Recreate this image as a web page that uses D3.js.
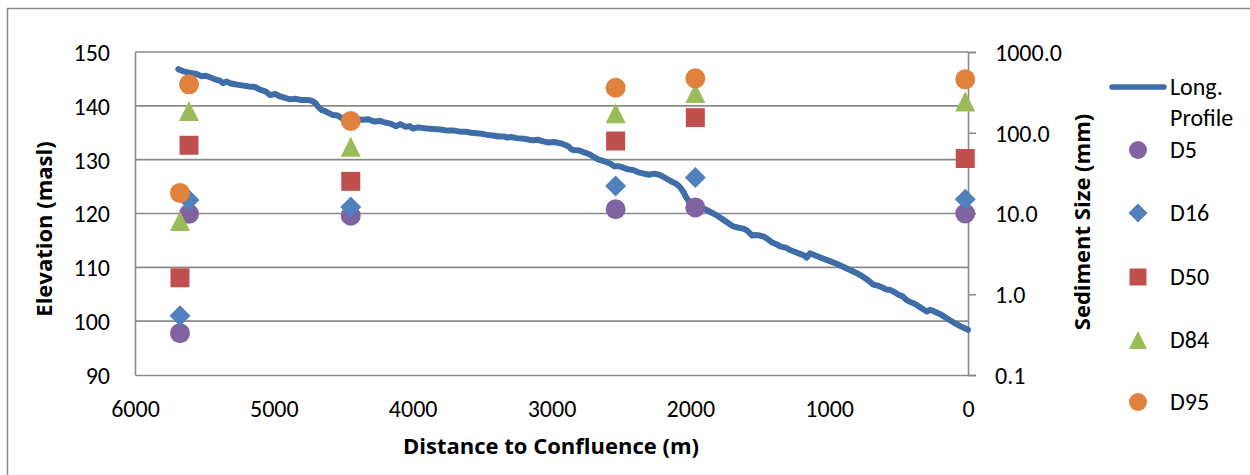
<!DOCTYPE html>
<html><head><meta charset="utf-8">
<script src="https://cdn.jsdelivr.net/npm/d3@7"></script>
<style>
body{margin:0;background:#fff;}
svg text{font-family:Carlito,Calibri,Lato,sans-serif;fill:#000;}
svg text.title{font-family:"Open Sans",Lato,sans-serif;font-weight:bold;}
</style></head>
<body><svg id="c" width="1250" height="475"></svg>
<script>
// Long profile: distance to confluence (m) and elevation (masl)
const profileDist = [5688,5650,5600,5556,5520,5490,5460,5420,5390,5366,5340,5316,5280,5230,5180,5136,5100,5060,5028,4990,4950,4920,4884,4850,4800,4760,4727,4700,4680,4655,4630,4600,4574,4540,4510,4480,4440,4400,4358,4320,4280,4235,4200,4160,4120,4090,4050,4020,3998,3960,3900,3850,3800,3750,3700,3659,3620,3580,3540,3500,3460,3420,3380,3340,3323,3290,3250,3200,3160,3133,3100,3060,3020,2980,2950,2927,2880,2860,2843,2800,2760,2747,2720,2690,2660,2620,2579,2550,2520,2490,2450,2413,2380,2350,2300,2260,2219,2180,2140,2100,2074,2050,2026,2000,1960,1930,1880,1835,1800,1760,1720,1690,1660,1620,1594,1570,1555,1530,1500,1470,1440,1410,1380,1354,1306,1290,1250,1210,1180,1162,1138,1100,1050,1000,950,900,850,800,778,754,720,682,650,620,590,560,530,500,470,442,410,380,340,297,274,250,200,150,100,50,0];
const profileElev = [146.8,146.4,146.1,145.9,145.5,145.6,145.3,144.9,144.7,144.2,144.5,144.2,144.0,143.8,143.6,143.5,143.0,142.7,142.0,142.2,141.7,141.5,141.2,141.3,141.1,141.1,140.95,140.5,139.8,139.2,139.0,138.6,138.3,138.2,137.7,137.9,137.6,137.5,137.4,137.5,137.1,137.2,136.9,136.7,136.2,136.6,136.1,136.2,135.8,136.0,135.8,135.7,135.6,135.4,135.4,135.2,135.2,135.0,134.9,134.8,134.6,134.5,134.3,134.3,134.1,134.2,134.0,133.9,133.7,133.6,133.7,133.4,133.2,133.3,133.1,133.0,132.5,132.0,131.8,131.7,131.3,131.2,130.9,130.4,130.0,129.7,129.3,128.8,128.8,128.6,128.2,128.1,127.7,127.5,127.2,127.4,127.15,126.6,126.0,125.5,124.9,124.0,122.8,122.0,121.5,121.26,120.6,120.0,119.5,118.8,118.1,117.6,117.4,117.2,116.9,116.3,115.9,116.0,115.9,115.7,115.2,114.6,114.3,113.9,113.6,113.3,112.9,112.5,112.2,111.8,112.6,112.2,111.7,111.2,110.7,110.1,109.5,108.9,108.6,108.2,107.6,106.8,106.6,106.3,105.9,105.8,105.4,104.9,104.6,103.9,103.5,103.2,102.5,101.8,102.1,101.9,101.3,100.5,99.7,99.0,98.4];

// Sediment sampling sites (distance, m) and grain sizes (mm)
const siteDist = [5676, 5611, 4446, 2538, 1964, 20];
const D5  = [0.33, 9.9, 9.4, 11.3, 11.9, 10.0];
const D16 = [0.54, 14.7, 12.0, 21.9, 28, 15];
const D50 = [1.6, 70, 25, 79, 154, 48];
const D84 = [8.1, 186, 67, 174, 311, 243];
const D95 = [18, 398, 140, 361, 472, 459];

const xTicks = [6000,5000,4000,3000,2000,1000,0];
const yLeftTicks = [90,100,110,120,130,140,150];
const yRightTicks = [0.1,1,10,100,1000];

const svg = d3.select("#c");
const L=135, R=968, T=52, B=375;
const x = d3.scaleLinear().domain([6000,0]).range([L,R]);
const yL = d3.scaleLinear().domain([90,150]).range([B,T]);
const yR = d3.scaleLog().domain([0.1,1000]).range([B,T]);
const FS = 24;

// outer chart border
svg.append("rect").attr("x",7.5).attr("y",8.5).attr("width",1300).attr("height",600)
  .attr("fill","none").attr("stroke","#8a8a8a").attr("stroke-width",1.5);

const gridCol="#8a8a8a";
// gridlines
svg.append("g").selectAll("line").data(yLeftTicks.filter(v=>v>90)).join("line")
  .attr("x1",L).attr("x2",R).attr("y1",d=>yL(d)).attr("y2",d=>yL(d))
  .attr("stroke",gridCol).attr("stroke-width",1.6);

// left axis
const gL = svg.append("g").attr("transform",`translate(${L},0)`)
  .call(d3.axisLeft(yL).tickValues(yLeftTicks).tickSize(0).tickPadding(25));
gL.select(".domain").attr("stroke",gridCol).attr("stroke-width",1.6);
gL.selectAll("text").attr("font-size",FS).attr("dy","0.35em");

// bottom axis
const gB = svg.append("g").attr("transform",`translate(0,${B})`)
  .call(d3.axisBottom(x).tickValues(xTicks).tickSize(0).tickPadding(34).tickFormat(d3.format("d")));
gB.select(".domain").attr("stroke",gridCol).attr("stroke-width",1.6);
gB.selectAll("text").attr("font-size",FS).attr("dy","0.35em");

// right axis (log)
const gR = svg.append("g").attr("transform",`translate(${R},0)`)
  .call(d3.axisRight(yR).tickValues(yRightTicks).tickSize(8).tickPadding(19).tickFormat(d3.format(".1f")));
gR.select(".domain").attr("stroke",gridCol).attr("stroke-width",1.6);
gR.selectAll(".tick line").attr("stroke",gridCol).attr("stroke-width",1.6);
gR.selectAll("text").attr("font-size",FS).attr("dy","0.35em");

// axis titles
svg.append("text").attr("class","title").attr("transform","translate(52,229) rotate(-90)").attr("text-anchor","middle")
  .attr("font-size",22).text("Elevation (masl)");
svg.append("text").attr("class","title").attr("transform","translate(1090,222) rotate(-90)").attr("text-anchor","middle")
  .attr("font-size",22).text("Sediment Size (mm)");
svg.append("text").attr("class","title").attr("x",551).attr("y",454).attr("text-anchor","middle")
  .attr("font-size",22).text("Distance to Confluence (m)");

// profile line
const lineColor="#3E6DA8";
const profile = profileDist.map((d,i)=>({d, e:profileElev[i]}));
svg.append("path").datum(profile)
  .attr("d", d3.line().x(p=>x(p.d)).y(p=>yL(p.e)))
  .attr("fill","none").attr("stroke",lineColor).attr("stroke-width",6)
  .attr("stroke-linejoin","round").attr("stroke-linecap","round");

// custom symbol shapes (s = full width)
const shapes = {
  circle:{draw(c,s){const r=s/2;c.moveTo(r,0);c.arc(0,0,r,0,2*Math.PI);}},
  diamond:{draw(c,s){const h=s/2;c.moveTo(0,-h);c.lineTo(h,0);c.lineTo(0,h);c.lineTo(-h,0);c.closePath();}},
  square:{draw(c,s){const h=s/2;c.rect(-h,-h,s,s);}},
  triangle:{draw(c,s){const h=s/2;c.moveTo(0,-h);c.lineTo(h,h);c.lineTo(-h,h);c.closePath();}}
};
const series = [
  {name:"D5", vals:D5, shape:"circle", color:"#8064A2", size:20},
  {name:"D16", vals:D16, shape:"diamond", color:"#4F81BD", size:21},
  {name:"D50", vals:D50, shape:"square", color:"#C0504D", size:19},
  {name:"D84", vals:D84, shape:"triangle", color:"#9BBB59", size:20},
  {name:"D95", vals:D95, shape:"circle", color:"#E0823C", size:20}
];
series.forEach(s=>{
  svg.append("g").selectAll("path").data(s.vals).join("path")
    .attr("transform",(v,i)=>`translate(${x(siteDist[i])},${yR(v)})`)
    .attr("d", d3.symbol().type(shapes[s.shape]).size(s.size))
    .attr("fill",s.color);
});

// legend
const lg = svg.append("g");
lg.append("line").attr("x1",1112).attr("x2",1164).attr("y1",87).attr("y2",87)
  .attr("stroke",lineColor).attr("stroke-width",5.5).attr("stroke-linecap","round");
lg.append("text").attr("x",1170).attr("y",95).attr("font-size",FS).text("Long.");
lg.append("text").attr("x",1170).attr("y",126).attr("font-size",FS).text("Profile");
const legY=[150,213,277,340,402];
series.forEach((s,i)=>{
  lg.append("path").attr("transform",`translate(1138,${legY[i]})`)
    .attr("d", d3.symbol().type(shapes[s.shape]).size(s.size-2)).attr("fill",s.color);
  lg.append("text").attr("x",1170).attr("y",legY[i]).attr("dy","0.35em").attr("font-size",FS).text(s.name);
});
</script></body></html>
